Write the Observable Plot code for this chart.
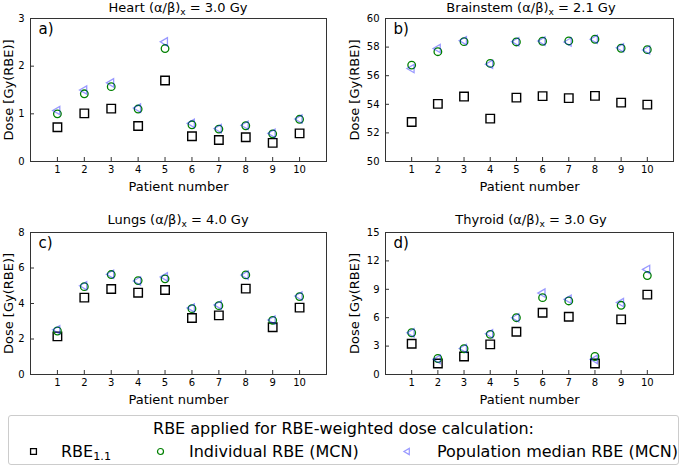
<!DOCTYPE html>
<html><head><meta charset="utf-8">
<script src="https://cdn.jsdelivr.net/npm/d3@7"></script>
<script src="https://cdn.jsdelivr.net/npm/@observablehq/plot@0.6"></script>
<style>
body{margin:0;background:#fff;}
#fig{position:relative;width:685px;height:467px;font-family:"DejaVu Sans",sans-serif;color:#000;overflow:hidden;background:#fff}
.panel{position:absolute}
.title{position:absolute;font-size:13px;line-height:15px;white-space:nowrap;transform:translateX(-50%)}
sub{font-size:0.7em;vertical-align:-0.3em;line-height:0}
#legend{position:absolute;left:8px;top:415px;width:671px;height:50px;border:1px solid #ccc;border-radius:3px;box-sizing:border-box}
.lt{position:absolute;font-size:16px;line-height:19px;white-space:nowrap}
.lm{position:absolute}
</style></head>
<body><div id="fig"></div>
<script>
const patients = [1,2,3,4,5,6,7,8,9,10];

const heartRBE11 = [0.72,1.01,1.11,0.745,1.70,0.53,0.45,0.51,0.39,0.59];
const heartInd   = [1.00,1.42,1.57,1.10,2.37,0.77,0.68,0.75,0.58,0.885];
const heartPop   = [1.07,1.50,1.65,1.12,2.51,0.80,0.69,0.76,0.59,0.89];

const brainRBE11 = [52.76,54.03,54.54,53.0,54.47,54.57,54.43,54.59,54.12,53.98];
const brainInd   = [56.74,57.68,58.38,56.86,58.36,58.41,58.43,58.55,57.92,57.82];
const brainPop   = [56.5,57.9,58.45,56.8,58.38,58.42,58.36,58.55,57.95,57.8];

const lungsRBE11 = [2.15,4.33,4.82,4.61,4.76,3.18,3.33,4.84,2.66,3.77];
const lungsInd   = [2.45,4.95,5.63,5.29,5.39,3.71,3.88,5.61,3.05,4.39];
const lungsPop   = [2.52,5.0,5.65,5.27,5.5,3.75,3.92,5.6,3.07,4.42];

const thyRBE11 = [3.25,1.16,1.9,3.18,4.52,6.53,6.1,1.16,5.82,8.44];
const thyInd   = [4.41,1.69,2.72,4.24,6.0,8.12,7.77,1.9,7.31,10.45];
const thyPop   = [4.4,1.6,2.75,4.3,6.0,8.6,7.95,1.6,7.6,11.1];

const panels = [
  {tag:"a)", organ:"Heart", ab:"3.0", rbe:heartRBE11, ind:heartInd, pop:heartPop, ydomain:[0,3], yticks:[0,1,2,3],
   left:0, top:0, width:340, height:200, mL:30, mR:14, mT:18, mB:39, ylab:-22, titleX:178, titleY:0},
  {tag:"b)", organ:"Brainstem", ab:"2.1", rbe:brainRBE11, ind:brainInd, pop:brainPop, ydomain:[50,60], yticks:[50,52,54,56,58,60],
   left:340, top:0, width:345, height:200, mL:45, mR:12, mT:18, mB:39, ylab:-31, titleX:531, titleY:0},
  {tag:"c)", organ:"Lungs", ab:"4.0", rbe:lungsRBE11, ind:lungsInd, pop:lungsPop, ydomain:[0,8], yticks:[0,2,4,6,8],
   left:0, top:200, width:340, height:210, mL:30, mR:14, mT:32, mB:36, ylab:-22, titleX:178, titleY:212},
  {tag:"d)", organ:"Thyroid", ab:"3.0", rbe:thyRBE11, ind:thyInd, pop:thyPop, ydomain:[0,15], yticks:[0,3,6,9,12,15],
   left:340, top:200, width:345, height:210, mL:45, mR:12, mT:32, mB:36, ylab:-31, titleX:531, titleY:212}
];

const triLeft = {draw(ctx, size){ const s = Math.sqrt(size/Math.PI); ctx.moveTo(-s,0); ctx.lineTo(s*0.5,-s*0.866); ctx.lineTo(s*0.5,s*0.866); ctx.closePath(); }};

const fig = document.getElementById("fig");

for (const p of panels) {
  const rows = (vals) => patients.map((x,i) => ({x, y: vals[i]}));
  const chart = Plot.plot({
    width: p.width, height: p.height,
    marginLeft: p.mL, marginRight: p.mR, marginTop: p.mT, marginBottom: p.mB,
    style: {fontFamily: "DejaVu Sans, sans-serif", fontSize: "10px", background: "transparent", overflow: "visible", color: "#000"},
    x: {domain: [0, 11]},
    y: {domain: p.ydomain},
    marks: [
      Plot.frame({stroke: "#333", strokeWidth: 1}),
      Plot.axisX({ticks: patients, tickFormat: d => String(d), tickSize: -4, tickPadding: 8, label: null, fontSize: 10, stroke: "#333"}),
      Plot.axisY({ticks: p.yticks, tickFormat: d => String(d), tickSize: -4, tickPadding: 10, label: null, fontSize: 10, stroke: "#333"}),
      Plot.text(["Patient number"], {frameAnchor: "bottom", dy: 25, lineAnchor: "middle", textAnchor: "middle", fontSize: 13}),
      Plot.text(["Dose [Gy(RBE)]"], {frameAnchor: "left", dx: p.ylab, rotate: -90, textAnchor: "middle", lineAnchor: "middle", fontSize: 13}),
      Plot.text([p.tag], {frameAnchor: "top-left", dx: 8, dy: 5, lineAnchor: "top", textAnchor: "start", fontSize: 15}),
      Plot.dot(rows(p.rbe), {x: "x", y: "y", symbol: "square", r: 4.8, stroke: "black", strokeWidth: 1.4, fill: "none"}),
      Plot.dot(rows(p.ind), {x: "x", y: "y", symbol: "circle", r: 3.8, stroke: "#008000", strokeWidth: 1.3, fill: "none"}),
      Plot.dot(rows(p.pop), {x: "x", y: "y", symbol: triLeft, r: 4.8, stroke: "#0000ff", strokeOpacity: 0.4, strokeWidth: 1.3, fill: "none"})
    ]
  });
  const div = document.createElement("div");
  div.className = "panel";
  div.style.left = p.left + "px"; div.style.top = p.top + "px";
  div.appendChild(chart);
  fig.appendChild(div);
  const t = document.createElement("div");
  t.className = "title";
  t.style.left = p.titleX + "px"; t.style.top = p.titleY + "px";
  t.innerHTML = `${p.organ} (α/β)<sub>x</sub> = ${p.ab} Gy`;
  fig.appendChild(t);
}

// legend
const legendTitle = "RBE applied for RBE-weighted dose calculation:";
const legendItems = [
  {label: "RBE<sub>1.1</sub>", mx: 32, tx: 60, kind: "square"},
  {label: "Individual RBE (MCN)", mx: 159, tx: 188, kind: "circle"},
  {label: "Population median RBE (MCN)", mx: 406, tx: 436, kind: "tri"}
];
const lg = document.createElement("div"); lg.id = "legend"; fig.appendChild(lg);
const lt = document.createElement("div"); lt.className = "lt";
lt.style.left = "0"; lt.style.width = "100%"; lt.style.textAlign = "center"; lt.style.top = "3px";
lt.textContent = legendTitle; lg.appendChild(lt);
for (const it of legendItems) {
  const s = document.createElement("div"); s.className = "lt";
  s.style.left = (it.tx - 8) + "px"; s.style.top = "26px"; s.innerHTML = it.label;
  lg.appendChild(s);
  const m = Plot.plot({
    width: 12, height: 12, margin: 0, x: {domain:[0,1], axis: null}, y: {domain:[0,1], axis: null},
    style: {background: "transparent", overflow: "visible"},
    marks: [
      it.kind === "square" ? Plot.dot([0], {x: () => 0.5, y: () => 0.5, symbol: "square", r: 3.3, stroke: "black", strokeWidth: 1.3, fill: "none"}) :
      it.kind === "circle" ? Plot.dot([0], {x: () => 0.5, y: () => 0.5, symbol: "circle", r: 3, stroke: "#008000", strokeWidth: 1.2, fill: "none"}) :
      Plot.dot([0], {x: () => 0.5, y: () => 0.5, symbol: triLeft, r: 3.6, stroke: "#0000ff", strokeOpacity: 0.4, strokeWidth: 1.2, fill: "none"})
    ]
  });
  m.classList.add("lm");
  m.style.left = (it.mx - 8 - 6) + "px"; m.style.top = "29px";
  lg.appendChild(m);
}
</script></body></html>
